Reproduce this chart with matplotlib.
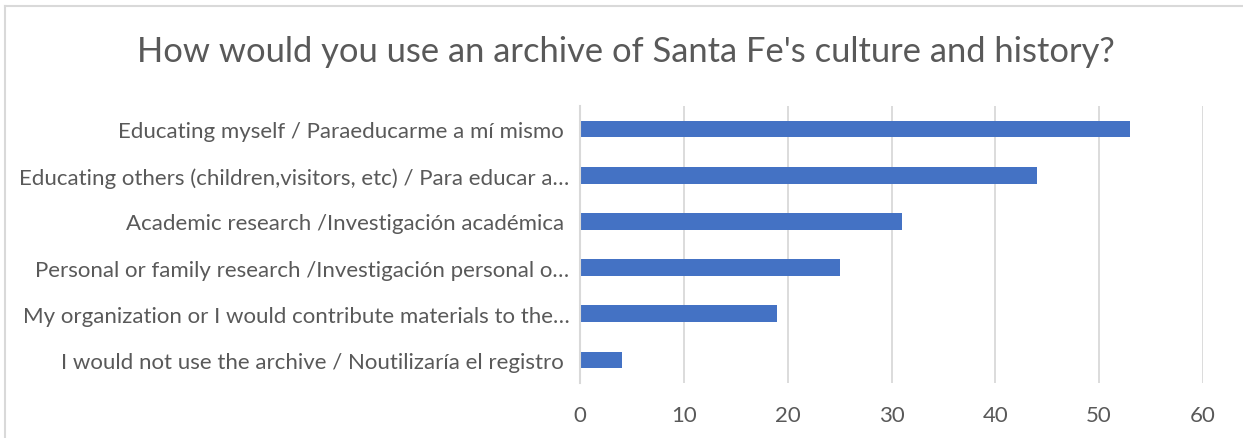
import matplotlib
matplotlib.use("Agg")
import matplotlib.pyplot as plt
from matplotlib.lines import Line2D

categories = [
    "Educating myself / Paraeducarme a mí mismo ",
    "Educating others (children,visitors, etc) / Para educar a…",
    "Academic research /Investigación académica ",
    "Personal or family research /Investigación personal o…",
    "My organization or I would contribute materials to the…",
    "I would not use the archive / Noutilizaría el registro ",
]
values = [53, 44, 31, 25, 19, 4]
xticks = [0, 10, 20, 30, 40, 50, 60]
title = "How would you use an archive of Santa Fe's culture and history?"

TEXT = "#595959"
GRID = "#D9D9D9"
BAR = "#4472C4"
FONT = "Lato"

fig = plt.figure(figsize=(12.43, 4.39), dpi=100)
ax = fig.add_axes([580/1243, 1-384/439, (1203-580)/1243, (384-107)/439])

y = list(range(len(categories)))
ax.barh(y, values, height=0.36, color=BAR, zorder=3)
ax.set_ylim(len(categories)-0.5, -0.5)
ax.set_xlim(0, 60)
ax.set_xticks(xticks)
ax.set_xticklabels([str(t) for t in xticks], fontsize=16, color=TEXT, family=FONT)
ax.set_yticks(y)
ax.set_yticklabels(categories, fontsize=16, color=TEXT, family=FONT)
ax.tick_params(axis="x", length=0, pad=16)
ax.tick_params(axis="y", length=0, pad=7.5)
ax.grid(axis="x", color=GRID, linewidth=1.3, zorder=0)
for s in ["top", "right", "bottom"]:
    ax.spines[s].set_visible(False)
ax.spines["left"].set_color(GRID)
ax.spines["left"].set_linewidth(1.5)
ax.spines["left"].set_zorder(4)

fig.text(626/1243, 1-52/439, title, ha="center", va="center", fontsize=24.8, color=TEXT, family=FONT)

fig.add_artist(Line2D([5/1243, 5/1243], [0, 1-7/439], color=GRID, linewidth=1.5, transform=fig.transFigure))
fig.add_artist(Line2D([5/1243, 1], [1-7/439, 1-7/439], color=GRID, linewidth=1.5, transform=fig.transFigure))

fig.savefig("out.png", dpi=100, facecolor="white")
